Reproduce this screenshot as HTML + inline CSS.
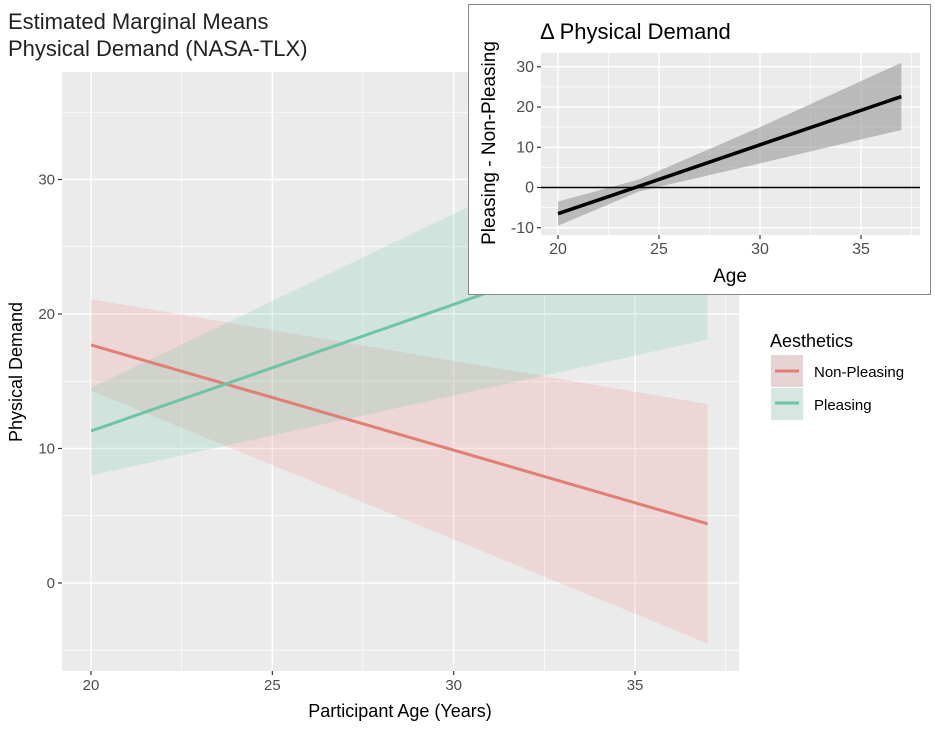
<!DOCTYPE html>
<html><head><meta charset="utf-8"><style>
body{margin:0;background:#fff;}
svg text{font-family:"Liberation Sans",sans-serif;}
</style></head><body>
<svg id="chart" width="935" height="726" xmlns="http://www.w3.org/2000/svg">
<rect width="935" height="726" fill="#fff"/>
<text x="8" y="29" font-size="22" fill="#222">Estimated Marginal Means</text>
<text x="8" y="56" font-size="22" fill="#222">Physical Demand (NASA-TLX)</text>
<g id="main"></g>
<text x="400" y="717" font-size="18" text-anchor="middle" fill="#000">Participant Age (Years)</text>
<text transform="translate(22,372) rotate(-90)" font-size="18" text-anchor="middle" fill="#000">Physical Demand</text>
<g>
<text x="770" y="347" font-size="18" fill="#000">Aesthetics</text>
<g>
<rect x="771" y="355" width="32" height="32" fill="#e6d4d4"/><line x1="775" x2="799" y1="371" y2="371" stroke="#e07f74" stroke-width="3"/>
<text x="814" y="377" font-size="15" fill="#000">Non-Pleasing</text></g>
<g>
<rect x="771" y="388" width="32" height="32" fill="#d6e6e1"/><line x1="775" x2="799" y1="403" y2="403" stroke="#6fc3a9" stroke-width="3"/>
<text x="814" y="410" font-size="15" fill="#000">Pleasing</text></g>
</g>
<rect x="468.5" y="4.5" width="462" height="290" fill="#fff" stroke="#888"/>
<text x="540" y="39" font-size="22" fill="#000">Δ Physical Demand</text>
<g id="inset"></g>
<text x="730" y="282" font-size="19" text-anchor="middle" fill="#000">Age</text>
<text transform="translate(495,143) rotate(-90)" font-size="19" text-anchor="middle" fill="#000">Pleasing - Non-Pleasing</text>
</svg>
<script>
// Main chart data
const ages = [20, 37];
const nonPleasingMean = [17.7, 4.4];
const nonPleasingLow = [14.3, -4.5];
const nonPleasingHigh = [21.1, 13.3];
const pleasingMean = [11.3, 27.3];
const pleasingLow = [8.0, 18.1];
const pleasingHigh = [14.5, 36.5];
const mainXTicks = [20, 25, 30, 35];
const mainYTicks = [0, 10, 20, 30];
// Inset data
const insetAges = [20, 24, 30, 37];
const diffMean = [-6.5, 0.3, 10.6, 22.6];
const diffLow = [-9.5, -1.0, 6.0, 14.3];
const diffHigh = [-3.5, 2.0, 15.0, 31.0];
const insetXTicks = [20, 25, 30, 35];
const insetYTicks = [-10, 0, 10, 20, 30];

const NS = "http://www.w3.org/2000/svg";
function mk(parent, tag, attrs){const e=document.createElementNS(NS,tag);for(const k in attrs)e.setAttribute(k,attrs[k]);parent.appendChild(e);return e;}

function drawPanel(g, P, xTicks, yTicks, fs){
  const bg=mk(g,'rect',{x:P.l,y:P.t,width:P.r-P.l,height:P.b-P.t,fill:'#ebebeb'});
  
  
  const step=xTicks[1]-xTicks[0], ystep=yTicks[1]-yTicks[0];
  for(let v=xTicks[0]-step*2; v<=xTicks[xTicks.length-1]+step*2; v+=step/2){
    const px=P.x(v); if(px<P.l||px>P.r) continue;
    const major=xTicks.includes(v);
    mk(g,'line',{x1:px,x2:px,y1:P.t,y2:P.b,stroke:'#fff','stroke-width':major?1.4:0.7});
  }
  for(let v=yTicks[0]-ystep*2; v<=yTicks[yTicks.length-1]+ystep*2; v+=ystep/2){
    const py=P.y(v); if(py<P.t||py>P.b) continue;
    const major=yTicks.includes(v);
    mk(g,'line',{x1:P.l,x2:P.r,y1:py,y2:py,stroke:'#fff','stroke-width':major?1.4:0.7});
  }
  xTicks.forEach(v=>{const px=P.x(v);
    mk(g,'line',{x1:px,x2:px,y1:P.b,y2:P.b+4,stroke:'#333','stroke-width':1.2});
    const t=mk(g,'text',{x:px,y:P.b+19,'font-size':fs,'text-anchor':'middle',fill:'#4d4d4d'});t.textContent=v;
    
    });
  yTicks.forEach(v=>{const py=P.y(v);
    mk(g,'line',{x1:P.l-4,x2:P.l,y1:py,y2:py,stroke:'#333','stroke-width':1.2});
    const t=mk(g,'text',{x:P.l-7,y:py+5,'font-size':fs,'text-anchor':'end',fill:'#4d4d4d'});t.textContent=v;
    
    });
}
function ribbon(g,P,xs,lo,hi,fill,op,name){
  let d='M'+xs.map((x,i)=>P.x(x)+','+P.y(hi[i])).join(' L');
  d+=' L'+xs.map((x,i)=>P.x(x)+','+P.y(lo[i])).reverse().join(' L')+'Z';
  const p=mk(g,'path',{d:d,fill:fill,'fill-opacity':op});
  
  
}
function line(g,P,xs,ys,stroke,w,name){
  const p=mk(g,'polyline',{points:xs.map((x,i)=>P.x(x)+','+P.y(ys[i])).join(' '),fill:'none',stroke:stroke,'stroke-width':w});
  
  
}
// main
const M={l:62,r:739,t:72,b:671};
M.x=v=>91+(v-20)*36.27; M.y=v=>583-v*13.45;
const gm=document.getElementById('main');
drawPanel(gm,M,mainXTicks,mainYTicks,15);
ribbon(gm,M,ages,nonPleasingLow,nonPleasingHigh,'#f08080',0.2,'non-pleasing-ci');
ribbon(gm,M,ages,pleasingLow,pleasingHigh,'#66c2a5',0.2,'pleasing-ci');
line(gm,M,ages,nonPleasingMean,'#e07f74',3,'non-pleasing-line');
line(gm,M,ages,pleasingMean,'#6fc3a9',3,'pleasing-line');
// inset
const I={l:541,r:920,t:53,b:235};
I.x=v=>558+(v-20)*20.2; I.y=v=>187.5-v*4.025;
const gi=document.getElementById('inset');
drawPanel(gi,I,insetXTicks,insetYTicks,16);
ribbon(gi,I,insetAges,diffLow,diffHigh,'#999',0.6,'difference-ci');
mk(gi,'line',{x1:I.l,x2:I.r,y1:I.y(0),y2:I.y(0),stroke:'#000','stroke-width':1.5});
line(gi,I,insetAges,diffMean,'#000',3.5,'difference-line');
</script>
</body></html>
